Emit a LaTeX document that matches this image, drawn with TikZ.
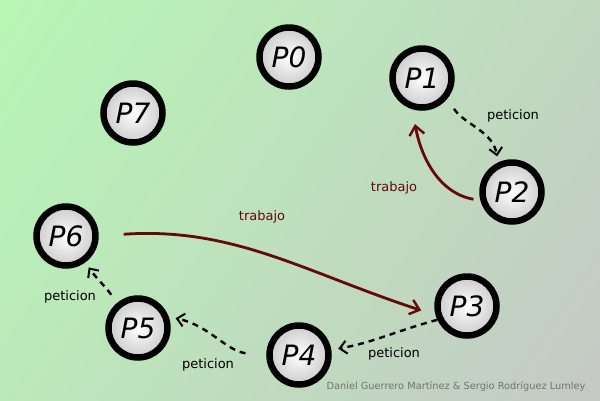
\documentclass[tikz,border=0pt]{standalone}
\usepackage{fontspec}
\setmainfont{DejaVu Sans}
\usetikzlibrary{arrows.meta}
\definecolor{bgA}{RGB}{182,250,180}
\definecolor{bgB}{RGB}{198,198,198}
\definecolor{work}{RGB}{100,8,8}
\tikzset{
  proc/.style={circle, draw=black, line width=6.5pt, minimum size=59pt, inner sep=0pt,
    inner color=white, outer color=black!20,
    font=\fontsize{28}{30}\selectfont\itshape},
  req/.style={draw=black, line width=2.4pt, dash pattern=on 6pt off 5pt,
    -{Straight Barb[length=7pt,width=13pt,line width=2pt]}},
  job/.style={draw=work, line width=2.8pt,
    -{Straight Barb[length=9pt,width=15pt,line width=2.4pt]}},
  lab/.style={font=\fontsize{13}{15}\selectfont, inner sep=0pt},
  wlab/.style={lab, text=work}
}
\begin{document}
\begin{tikzpicture}[x=1pt,y=1pt]
\useasboundingbox (0,-400) rectangle (600,0);
\shade[left color=bgA, right color=bgB, shading angle=56] (-150,-550) rectangle (750,150);
\node[proc] (p0) at (289,-57) {P0};
\node[proc] (p1) at (422,-78) {P1};
\node[proc] (p2) at (512,-192) {P2};
\node[proc] (p3) at (467,-306) {P3};
\node[proc] (p4) at (299,-355) {P4};
\node[proc] (p5) at (138,-328) {P5};
\node[proc] (p6) at (66,-236) {P6};
\node[proc] (p7) at (133,-113) {P7};
% peticion arrows
\draw[req, shorten <=12pt, shorten >=6pt] (p1.-40) to[out=-55, in=100] (p2.115);
\draw[req, shorten >=7pt] (p3.205) to[out=195, in=10] (p4.9);
\draw[req, shorten <=21pt, shorten >=7pt] (p4.182) to[out=172, in=-12] (p5.20);
\draw[req, shorten <=10pt, shorten >=6pt] (p5.130) to[out=125, in=-55] (p6.-54);
% trabajo arrows
\draw[job, shorten <=7pt, shorten >=15pt] (p2.195) to[out=170, in=-80] (p1.-107);
\draw[job, shorten <=25pt, shorten >=15pt] (p6.0) to[out=4, in=162] (p3.196);
% labels
\node[lab] (l12) at (513,-116) {peticion};
\node[wlab] (l21) at (394,-188) {trabajo};
\node[wlab] (l63) at (262,-217) {trabajo};
\node[lab] (l34) at (394,-354) {peticion};
\node[lab] (l45) at (208,-365) {peticion};
\node[lab] (l56) at (70,-297) {peticion};
\node[font=\fontsize{9.8}{11}\selectfont, text=black!55, inner sep=0pt] (credit) at (456,-387) {Daniel Guerrero Martínez \& Sergio Rodríguez Lumley};
\end{tikzpicture}
\end{document}
